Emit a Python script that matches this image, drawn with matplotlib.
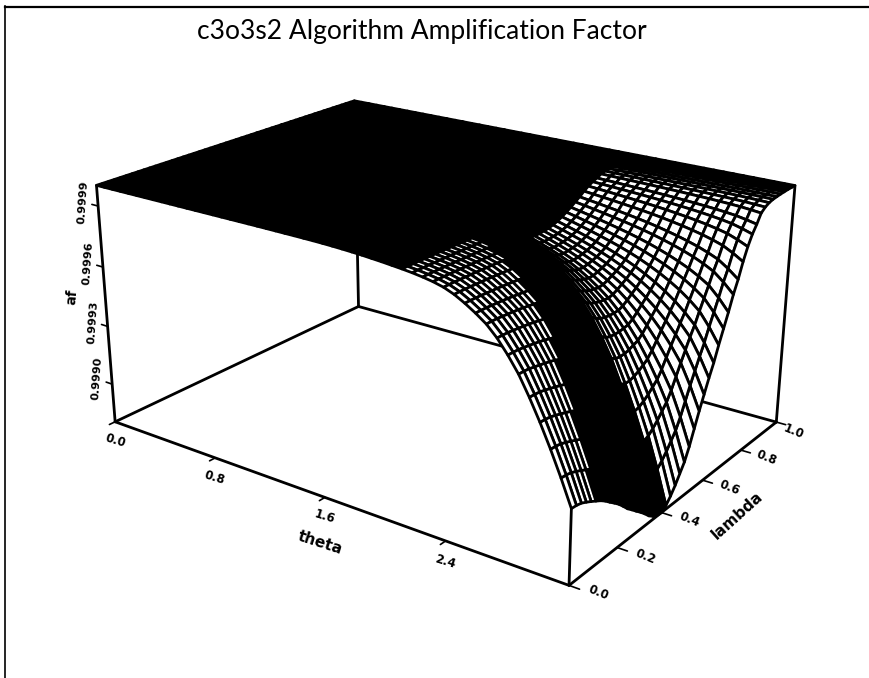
import numpy as np, matplotlib
matplotlib.use('Agg')
import matplotlib.pyplot as plt
from matplotlib.lines import Line2D

TITLE = "c3o3s2 Algorithm Amplification Factor"
# Surface read off the picture as profiles on 51 grid lines each:
# drop below 1 along theta near lambda=0, along theta near lambda=0.75, and along lambda at theta=pi.
theta_drop_low = [0,0,0,0,0,0,0,0,0,0,0,0,0,0,0,0,0,0,0,0,.0002,.0005,.0008,.001,.0015,
              .002,.003,.0045,.0065,.009,.012,.016,.020,.025,.030,.036,.044,.054,.068,.09,
              .12,.155,.195,.25,.32,.40,.50,.61,.73,.86,1.0]
theta_drop_high = [0,0,0,0,0,0,0,.001,.002,.003,.004,.006,.008,.011,.014,.018,.022,.027,.032,.038,
              .045,.053,.062,.072,.083,.095,.108,.122,.137,.153,.170,.188,.207,.227,.248,.270,.293,.317,.342,.368,
              .395,.425,.458,.495,.535,.58,.63,.69,.76,.87,1.0]
lambda_drop = [.71,.712,.717,.727,.738,.75,.762,.777,.795,.812,.83,.852,.875,.893,.912,.93,.95,.972,.988,.997,
               1,.985,.96,.93,.895,.86,.81,.75,.69,.635,.58,.53,.47,.415,.36,.30,.25,.19,.14,.10,
               .07,.035,.02,.011,.006,.004,.002,.001,0,0,0]
profile_mix = [0,0,0,0,0,0,0,0,0,0,0,0,0,0,0,0,.05,.1,.15,.2,.26,.32,.38,.44,.5,.56,.62,.68,.74,.8,.85,.89,.93,.96,.98,
               1,1,1,1,1,1,1,1,1,1,1,1,1,1,1,1]
drop_range = 0.0012
z_min, z_max = 0.9988, 1.0
theta_ticks = [0.0, 0.8, 1.6, 2.4]
lambda_ticks = [0.0, 0.2, 0.4, 0.6, 0.8, 1.0]
z_ticks = [0.9990, 0.9993, 0.9996, 0.9999]
theta_pos = [(116,441),(215,478),(325,517),(445,562)]
lambda_pos = [(598,593),(645,557),(690,520),(730,488),(767,458),(794,432)]
z_pos = [(97,378),(93,322),(88,263),(83,202)]
# Where the scan's ink has closed the mesh: lambda cells per theta column from column 34 on.
ink_start = [13,13,12,12,11,11,10,10,9,9,8,7,7,6,6,5]
ink_stop = [17,17,17,18,18,18,18,18,19,19,19,19,20,20,21,21]

W,H = 869,678
fig = plt.figure(figsize=(W/100,H/100),dpi=100)
S = 704.1
ax = fig.add_axes([84.1/W, 9.5/H, S/W, S/H], projection='3d')
ax.set_xlim(0,np.pi,view_margin=0); ax.set_ylim(0,1,view_margin=0); ax.set_zlim(z_min,z_max,view_margin=0)
ax.view_init(elev=21.5623, azim=-53.9694)
ax.set_proj_type('persp', focal_length=0.4466)
ax.set_box_aspect((1,0.7258,0.4622))
ax.set_axis_off()
ax.computed_zorder = False

theta = np.linspace(0,np.pi,len(theta_drop_low))
lam = np.linspace(0,1,len(lambda_drop))
T,L = np.meshgrid(theta,lam)
mix = np.array(profile_mix)[:,None]
shape = (1-mix)*np.array(theta_drop_low)[None,:] + mix*np.array(theta_drop_high)[None,:]
Z = z_max - drop_range*np.array(lambda_drop)[:,None]*shape

cols = np.ones((T.shape[0]-1,T.shape[1]-1,4))
cols[:,:34] = (0,0,0,1)
cols[47:,:] = (0,0,0,1)
for j,(a,b) in enumerate(zip(ink_start,ink_stop)):
    cols[a:b,34+j] = (0,0,0,1)

BL = 2.0
def seg(x,y,z,zo,lw=BL):
    ln, = ax.plot(x,y,z,color='black',lw=lw,zorder=zo,solid_capstyle='round')
    ln.set_clip_on(False)
seg([0,0],[0,1],[z_min,z_min],1)
seg([0,np.pi],[1,1],[z_min,z_min],1)
seg([0,0],[1,1],[z_min,z_max],1)
surf = ax.plot_surface(T,L,Z,rstride=1,cstride=1,facecolors=cols,edgecolor='black',linewidth=2.0,shade=False,zorder=2)
surf.set_clip_on(False)
seg([0,np.pi],[0,0],[z_min,z_min],3)
seg([np.pi,np.pi],[0,1],[z_min,z_min],3)
seg([0,0],[0,0],[z_min,z_max],3)
seg([np.pi,np.pi],[0,0],[z_min,Z[0,-1]],3)
seg([np.pi,np.pi],[1,1],[z_min,z_max],3)
for t in theta_ticks:
    seg([t,t],[0,-0.02],[z_min,z_min],3,1.2)
for l in lambda_ticks:
    seg([np.pi,np.pi+0.06],[l,l],[z_min,z_min],3,1.2)
for z in z_ticks:
    seg([0,-0.05],[0,0],[z,z],3,1.2)

def label(px,py,s,rot,size=10,weight='bold',**kw):
    fig.text(px/W,1-py/H,s,rotation=rot,fontsize=size,fontweight=weight,ha='center',va='center',
             rotation_mode='anchor',family='DejaVu Sans',**kw)
for t,(x,y) in zip(theta_ticks,theta_pos): label(x,y,f"{t:.1f}",-17,8.5)
for l,(x,y) in zip(lambda_ticks,lambda_pos): label(x,y,f"{l:.1f}",-22,8.5)
for z,(x,y) in zip(z_ticks,z_pos): label(x,y,f"{z:.4f}",86,8)
label(72,297,"af",85,10)
label(320,543,"theta",-18,11)
label(737,515,"lambda",42,11)
fig.text(422/W,1-31/H,TITLE,fontsize=19,family='Lato',ha='center',va='center')
fig.add_artist(Line2D([4.5/W,4.5/W],[0,1-6/H],color='black',lw=1.2))
fig.add_artist(Line2D([4.5/W,1],[1-7/H,1-7/H],color='black',lw=1.6))
fig.savefig('out.png',dpi=100)
